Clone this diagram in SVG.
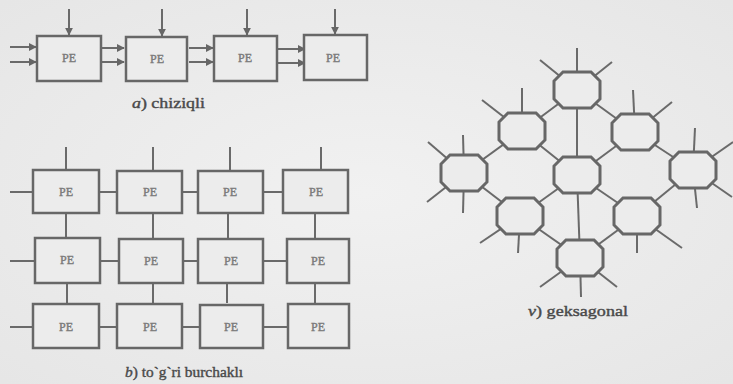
<svg xmlns="http://www.w3.org/2000/svg" width="733" height="384" viewBox="0 0 733 384">
<defs>
<radialGradient id="bg" cx="0.5" cy="0.5" r="0.7">
<stop offset="0" stop-color="#f1f1f1"/>
<stop offset="1" stop-color="#e6e6e6"/>
</radialGradient>
<marker id="ah" viewBox="0 0 10 10" refX="9" refY="5" markerWidth="4" markerHeight="4" orient="auto" markerUnits="strokeWidth">
<path d="M0,0 L10,5 L0,10 z" fill="#666"/>
</marker>
<path id="oct" d="M-14,-18 L14,-18 L23,-9 L23,9 L14,18 L-14,18 L-23,9 L-23,-9 Z"/>
</defs>
<style>
.box{fill:#ececec;stroke:#676767;stroke-width:2.5}
.oct{fill:#ececec;stroke:#676767;stroke-width:3}
.ln{stroke:#6a6a6a;stroke-width:2;fill:none}
.arr{stroke:#6a6a6a;stroke-width:2;fill:none;marker-end:url(#ah)}
.pe{font-family:'Liberation Serif','Times New Roman',serif;font-weight:normal;font-size:12px;fill:#7a7a7a;stroke:#7a7a7a;stroke-width:0.4;text-anchor:middle}
.cap{font-family:'Liberation Serif','Times New Roman',serif;font-weight:normal;font-size:15px;fill:#4a4a4a;stroke:#4a4a4a;stroke-width:0.4}
</style>
<rect width="733" height="384" fill="url(#bg)"/>

<!-- a) linear -->
<g id="connectors-a">
<line class="arr" x1="69" y1="9" x2="69" y2="35"/>
<line class="arr" x1="162" y1="9" x2="162" y2="36"/>
<line class="arr" x1="247" y1="9" x2="247" y2="35"/>
<line class="arr" x1="335" y1="9" x2="335" y2="34"/>
<line class="arr" x1="10" y1="47" x2="36" y2="47"/>
<line class="arr" x1="10" y1="62" x2="36" y2="62"/>
<line class="arr" x1="102" y1="48" x2="124" y2="48"/>
<line class="arr" x1="102" y1="62" x2="124" y2="62"/>
<line class="arr" x1="189" y1="48" x2="213" y2="48"/>
<line class="arr" x1="189" y1="62" x2="213" y2="62"/>
<line class="arr" x1="278" y1="49" x2="305" y2="49"/>
<line class="arr" x1="278" y1="63" x2="305" y2="63"/>
</g>
<g id="a-pe1"><rect class="box" x="37" y="36" width="64" height="45"/><text class="pe" x="69" y="62">PE</text></g>
<g id="a-pe2"><rect class="box" x="126" y="37" width="61" height="44"/><text class="pe" x="157" y="63">PE</text></g>
<g id="a-pe3"><rect class="box" x="214" y="36" width="63" height="45"/><text class="pe" x="245" y="62">PE</text></g>
<g id="a-pe4"><rect class="box" x="304" y="35" width="63" height="45"/><text class="pe" x="333" y="62">PE</text></g>
<text class="cap" x="132" y="108" textLength="73" lengthAdjust="spacingAndGlyphs"><tspan font-style="italic">a</tspan>) chiziqli</text>

<!-- b) rectangular -->
<g id="connectors-b">
<line class="ln" x1="66" y1="147" x2="66" y2="170"/>
<line class="ln" x1="153" y1="147" x2="153" y2="170"/>
<line class="ln" x1="230" y1="147" x2="230" y2="170"/>
<line class="ln" x1="321" y1="147" x2="321" y2="170"/>
<line class="ln" x1="66" y1="213" x2="66" y2="238"/>
<line class="ln" x1="153" y1="213" x2="153" y2="238"/>
<line class="ln" x1="228" y1="213" x2="228" y2="238"/>
<line class="ln" x1="315" y1="213" x2="315" y2="238"/>
<line class="ln" x1="67" y1="283" x2="67" y2="303"/>
<line class="ln" x1="153" y1="283" x2="153" y2="303"/>
<line class="ln" x1="227" y1="283" x2="227" y2="303"/>
<line class="ln" x1="315" y1="283" x2="315" y2="303"/>
<line class="ln" x1="10" y1="192" x2="33" y2="192"/>
<line class="ln" x1="99" y1="192" x2="117" y2="192"/>
<line class="ln" x1="182" y1="192" x2="198" y2="192"/>
<line class="ln" x1="263" y1="192" x2="283" y2="192"/>
<line class="ln" x1="10" y1="261" x2="35" y2="261"/>
<line class="ln" x1="100" y1="261" x2="119" y2="261"/>
<line class="ln" x1="183" y1="261" x2="198" y2="261"/>
<line class="ln" x1="263" y1="261" x2="287" y2="261"/>
<line class="ln" x1="10" y1="327" x2="33" y2="327"/>
<line class="ln" x1="99" y1="327" x2="117" y2="327"/>
<line class="ln" x1="182" y1="327" x2="200" y2="327"/>
<line class="ln" x1="263" y1="327" x2="288" y2="327"/>
</g>
<g id="b-r1c1"><rect class="box" x="33" y="170" width="66" height="43"/><text class="pe" x="66" y="196">PE</text></g>
<g id="b-r1c2"><rect class="box" x="117" y="171" width="65" height="42"/><text class="pe" x="150" y="196">PE</text></g>
<g id="b-r1c3"><rect class="box" x="198" y="171" width="65" height="42"/><text class="pe" x="230" y="196">PE</text></g>
<g id="b-r1c4"><rect class="box" x="283" y="170" width="65" height="43"/><text class="pe" x="316" y="196">PE</text></g>
<g id="b-r2c1"><rect class="box" x="35" y="238" width="65" height="45"/><text class="pe" x="67" y="264">PE</text></g>
<g id="b-r2c2"><rect class="box" x="119" y="239" width="64" height="44"/><text class="pe" x="151" y="265">PE</text></g>
<g id="b-r2c3"><rect class="box" x="198" y="239" width="65" height="44"/><text class="pe" x="231" y="265">PE</text></g>
<g id="b-r2c4"><rect class="box" x="287" y="239" width="62" height="44"/><text class="pe" x="318" y="265">PE</text></g>
<g id="b-r3c1"><rect class="box" x="33" y="304" width="66" height="44"/><text class="pe" x="66" y="331">PE</text></g>
<g id="b-r3c2"><rect class="box" x="117" y="304" width="65" height="44"/><text class="pe" x="150" y="331">PE</text></g>
<g id="b-r3c3"><rect class="box" x="200" y="305" width="63" height="43"/><text class="pe" x="231" y="331">PE</text></g>
<g id="b-r3c4"><rect class="box" x="288" y="304" width="61" height="44"/><text class="pe" x="318" y="331">PE</text></g>
<text class="cap" x="125" y="377" textLength="118" lengthAdjust="spacingAndGlyphs"><tspan font-style="italic">b</tspan>) to`g`ri burchaklı</text>

<!-- v) hexagonal -->
<g id="connectors-v">
<line class="ln" x1="577" y1="90" x2="522" y2="131"/>
<line class="ln" x1="577" y1="90" x2="635" y2="132"/>
<line class="ln" x1="577" y1="90" x2="577" y2="175"/>
<line class="ln" x1="522" y1="131" x2="464" y2="173"/>
<line class="ln" x1="522" y1="131" x2="577" y2="175"/>
<line class="ln" x1="635" y1="132" x2="577" y2="175"/>
<line class="ln" x1="635" y1="132" x2="693" y2="170"/>
<line class="ln" x1="464" y1="173" x2="520" y2="216"/>
<line class="ln" x1="577" y1="175" x2="520" y2="216"/>
<line class="ln" x1="577" y1="175" x2="637" y2="216"/>
<line class="ln" x1="577" y1="175" x2="580" y2="258"/>
<line class="ln" x1="693" y1="170" x2="637" y2="216"/>
<line class="ln" x1="520" y1="216" x2="580" y2="258"/>
<line class="ln" x1="637" y1="216" x2="580" y2="258"/>
<line class="ln" x1="577" y1="90" x2="577" y2="48"/>
<line class="ln" x1="577" y1="90" x2="540" y2="60"/>
<line class="ln" x1="577" y1="90" x2="612" y2="62"/>
<line class="ln" x1="522" y1="131" x2="522" y2="88"/>
<line class="ln" x1="522" y1="131" x2="482" y2="100"/>
<line class="ln" x1="635" y1="132" x2="633" y2="90"/>
<line class="ln" x1="635" y1="132" x2="672" y2="102"/>
<line class="ln" x1="464" y1="173" x2="463" y2="135"/>
<line class="ln" x1="464" y1="173" x2="428" y2="142"/>
<line class="ln" x1="464" y1="173" x2="427" y2="202"/>
<line class="ln" x1="464" y1="173" x2="463" y2="213"/>
<line class="ln" x1="693" y1="170" x2="695" y2="128"/>
<line class="ln" x1="693" y1="170" x2="733" y2="142"/>
<line class="ln" x1="693" y1="170" x2="732" y2="197"/>
<line class="ln" x1="693" y1="170" x2="697" y2="208"/>
<line class="ln" x1="520" y1="216" x2="480" y2="243"/>
<line class="ln" x1="520" y1="216" x2="518" y2="253"/>
<line class="ln" x1="637" y1="216" x2="637" y2="253"/>
<line class="ln" x1="637" y1="216" x2="682" y2="248"/>
<line class="ln" x1="580" y1="258" x2="540" y2="287"/>
<line class="ln" x1="580" y1="258" x2="581" y2="297"/>
<line class="ln" x1="580" y1="258" x2="617" y2="287"/>
</g>
<g id="v-top"><use href="#oct" class="oct" x="577" y="90"/></g>
<g id="v-ul"><use href="#oct" class="oct" x="522" y="131"/></g>
<g id="v-ur"><use href="#oct" class="oct" x="635" y="132"/></g>
<g id="v-left"><use href="#oct" class="oct" x="464" y="173"/></g>
<g id="v-center"><use href="#oct" class="oct" x="577" y="175"/></g>
<g id="v-right"><use href="#oct" class="oct" x="693" y="170"/></g>
<g id="v-ll"><use href="#oct" class="oct" x="520" y="216"/></g>
<g id="v-lr"><use href="#oct" class="oct" x="637" y="216"/></g>
<g id="v-bottom"><use href="#oct" class="oct" x="580" y="258"/></g>
<text class="cap" x="528" y="316" textLength="100" lengthAdjust="spacingAndGlyphs"><tspan font-style="italic">v</tspan>) geksagonal</text>
</svg>
